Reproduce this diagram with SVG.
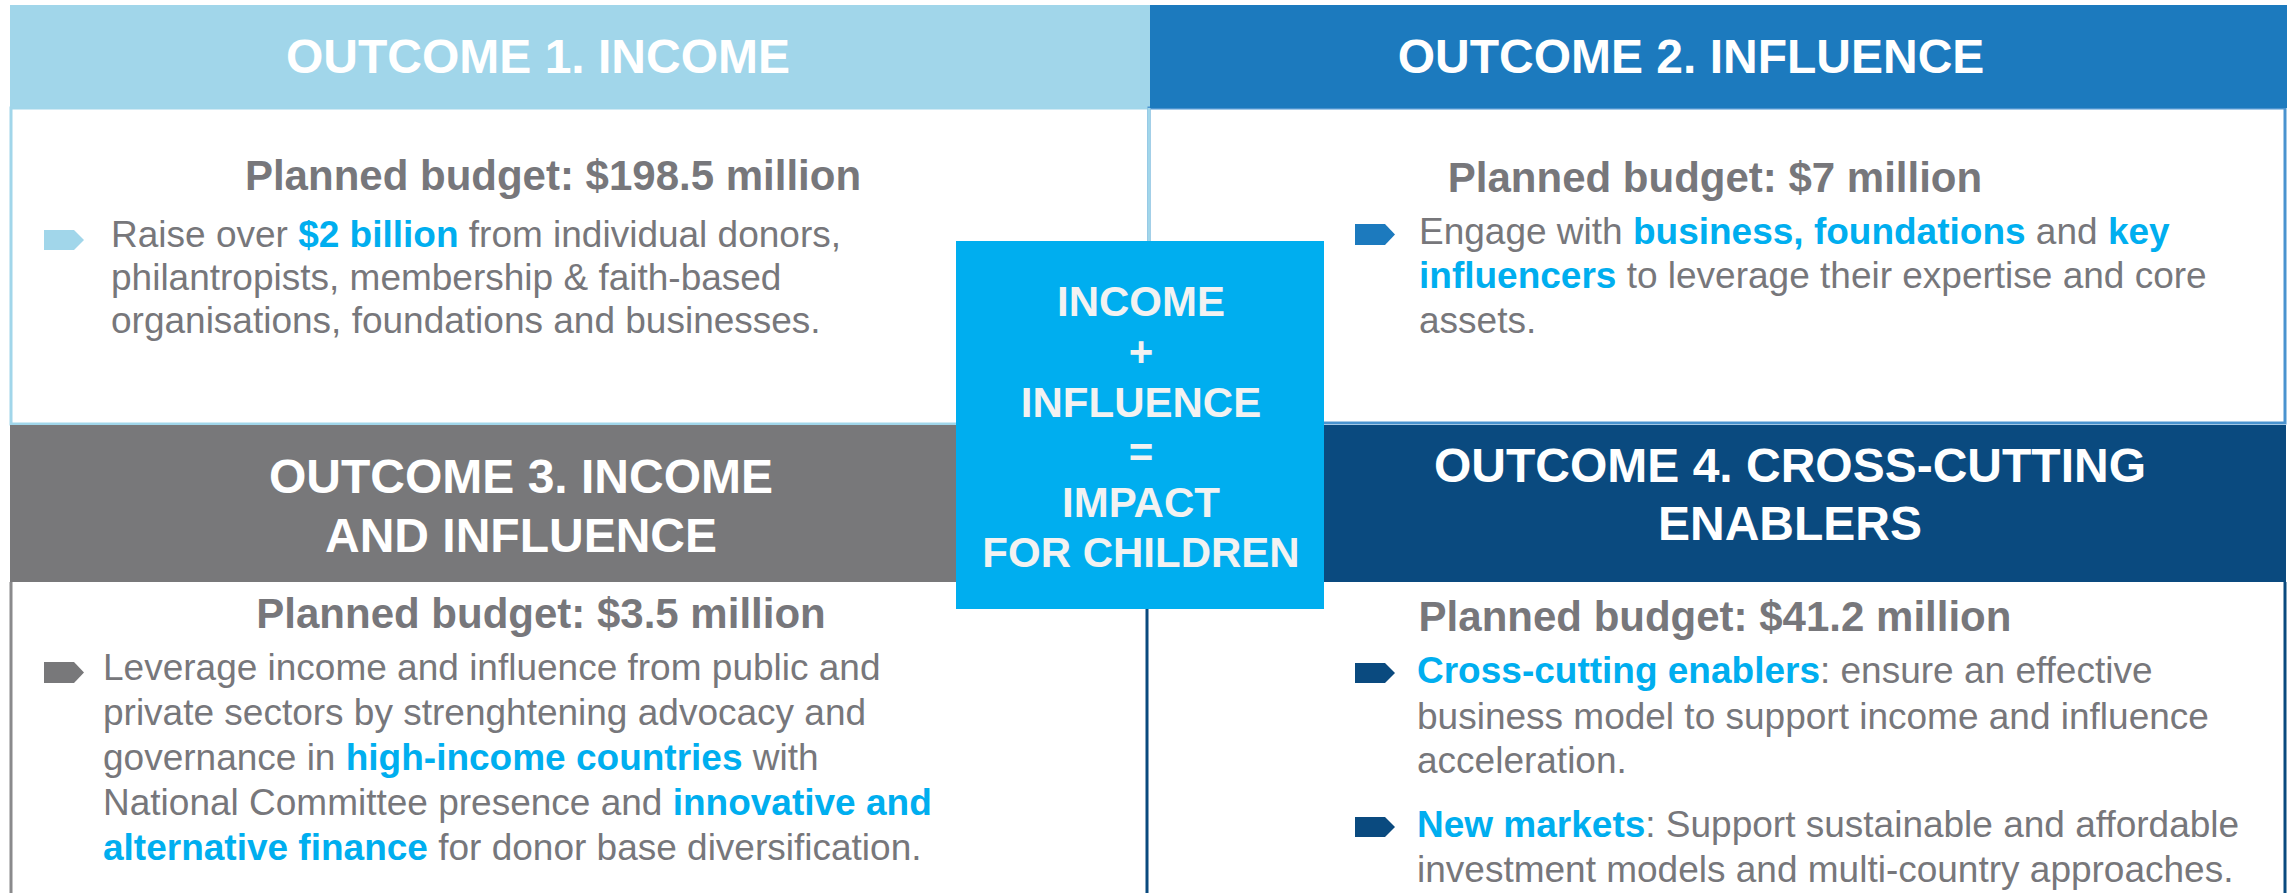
<svg xmlns="http://www.w3.org/2000/svg" width="2292" height="893" viewBox="0 0 2292 893">
<style>
.hd{font-family:"Liberation Sans",Arial,sans-serif;font-weight:bold;font-size:48px;fill:#FFFFFF;text-anchor:middle}
.bg{font-family:"Liberation Sans",Arial,sans-serif;font-weight:bold;font-size:42px;fill:#77777B;text-anchor:middle}
.tx{font-family:"Liberation Sans",Arial,sans-serif;font-size:37px;fill:#77777B}
.hl{font-weight:bold;fill:#00AEEF}
.ct{font-family:"Liberation Sans",Arial,sans-serif;font-weight:bold;font-size:42px;fill:#F2F2F2;text-anchor:middle}
</style>
<rect x="0" y="0" width="2292" height="893" fill="#FFFFFF"/>
<g id="outcome1">
<rect x="11" y="108" width="1138" height="316" fill="#FFFFFF" stroke="#A1D6EA" stroke-width="3"/>
<rect x="10" y="5" width="1140" height="103" fill="#A1D6EA"/>
<text class="hd" x="538" y="73">OUTCOME 1. INCOME</text>
<text class="bg" x="553" y="190">Planned budget: $198.5 million</text>
<polygon points="44,230 74,230 84,240 74,250 44,250" fill="#A1D6EA"/>
<text class="tx" x="111" y="247">Raise over <tspan class="hl">$2 billion</tspan> from individual donors,</text>
<text class="tx" x="111" y="290">philantropists, membership &amp; faith-based</text>
<text class="tx" x="111" y="333">organisations, foundations and businesses.</text>
</g>
<g id="outcome2">
<rect x="1149" y="108" width="1136" height="315" fill="#FFFFFF" stroke="#4A93CF" stroke-width="3"/>
<line x1="1149" y1="108" x2="1149" y2="424" stroke="#A1D6EA" stroke-width="3"/>
<rect x="1150" y="5" width="1137" height="103" fill="#1C7ABE"/>
<text class="hd" x="1691" y="73">OUTCOME 2. INFLUENCE</text>
<text class="bg" x="1715" y="192">Planned budget: $7 million</text>
<polygon points="1355,224 1385,224 1395,234.5 1385,245 1355,245" fill="#1C7ABE"/>
<text class="tx" x="1419" y="244">Engage with <tspan class="hl">business, foundations</tspan> and <tspan class="hl">key</tspan></text>
<text class="tx" x="1419" y="288"><tspan class="hl">influencers</tspan> to leverage their expertise and core</text>
<text class="tx" x="1419" y="333">assets.</text>
</g>
<g id="outcome3">
<line x1="11" y1="582" x2="11" y2="893" stroke="#8A8A8C" stroke-width="3"/>
<rect x="10" y="425" width="1139" height="157" fill="#78787A"/>
<text class="hd" x="521" y="493">OUTCOME 3. INCOME</text>
<text class="hd" x="521" y="552">AND INFLUENCE</text>
<text class="bg" x="541" y="628">Planned budget: $3.5 million</text>
<polygon points="44,662 74,662 84,672.5 74,683 44,683" fill="#78787A"/>
<text class="tx" x="103" y="680">Leverage income and influence from public and</text>
<text class="tx" x="103" y="725">private sectors by strenghtening advocacy and</text>
<text class="tx" x="103" y="770">governance in <tspan class="hl">high-income countries</tspan> with</text>
<text class="tx" x="103" y="815">National Committee presence and <tspan class="hl">innovative and</tspan></text>
<text class="tx" x="103" y="860"><tspan class="hl">alternative finance</tspan> for donor base diversification.</text>
</g>
<g id="outcome4">
<line x1="1147" y1="582" x2="1147" y2="893" stroke="#0A4A7F" stroke-width="3"/>
<line x1="2285" y1="582" x2="2285" y2="893" stroke="#0A4A7F" stroke-width="3"/>
<rect x="1147" y="425" width="1139" height="157" fill="#0A4A7F"/>
<text class="hd" x="1790" y="482">OUTCOME 4. CROSS-CUTTING</text>
<text class="hd" x="1790" y="540">ENABLERS</text>
<text class="bg" x="1715" y="631">Planned budget: $41.2 million</text>
<polygon points="1355,663 1385,663 1395,673 1385,683 1355,683" fill="#0A4A7F"/>
<text class="tx" x="1417" y="683"><tspan class="hl">Cross-cutting enablers</tspan>: ensure an effective</text>
<text class="tx" x="1417" y="729">business model to support income and influence</text>
<text class="tx" x="1417" y="773">acceleration.</text>
<polygon points="1355,817 1385,817 1395,827 1385,837 1355,837" fill="#0A4A7F"/>
<text class="tx" x="1417" y="837"><tspan class="hl">New markets</tspan>: Support sustainable and affordable</text>
<text class="tx" x="1417" y="882">investment models and multi-country approaches.</text>
</g>
<g id="center">
<rect x="956" y="241" width="368" height="368" fill="#00AEEF"/>
<text class="ct" x="1141" y="316">INCOME</text>
<text class="ct" x="1141" y="366">+</text>
<text class="ct" x="1141" y="417">INFLUENCE</text>
<text class="ct" x="1141" y="467">=</text>
<text class="ct" x="1141" y="517">IMPACT</text>
<text class="ct" x="1141" y="567">FOR CHILDREN</text>
</g>
<g id="connectors"></g>
</svg>
